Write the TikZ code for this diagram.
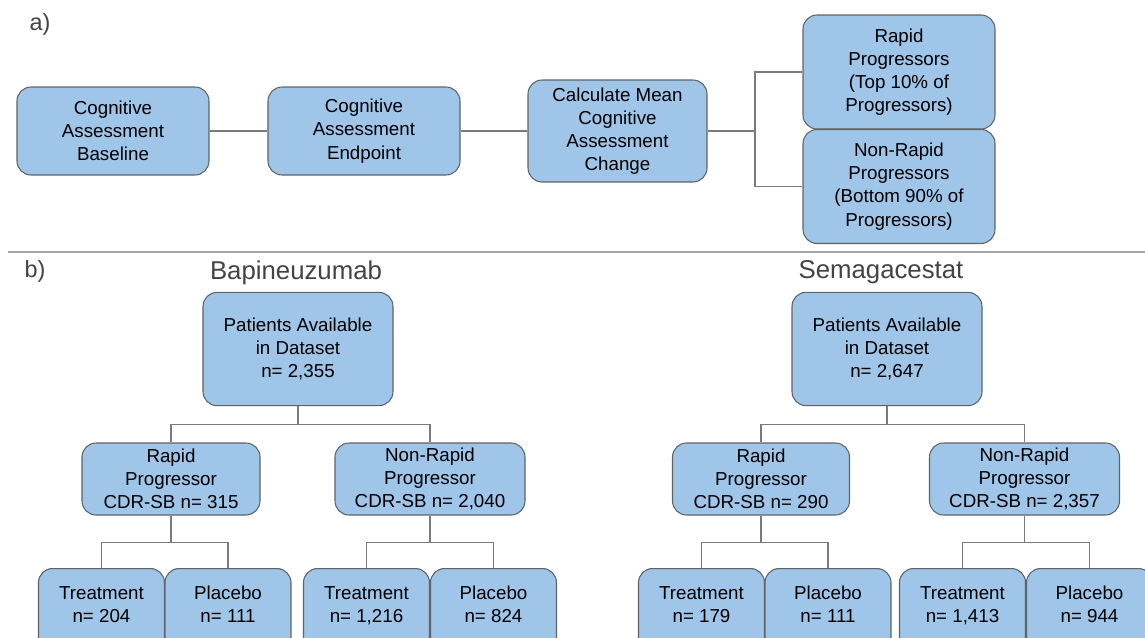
\documentclass[tikz,border=0pt]{standalone}
\usepackage{fontspec}
\setmainfont{Liberation Sans}
\usetikzlibrary{positioning}
\definecolor{boxblue}{HTML}{9FC5E8}
\definecolor{boxedge}{HTML}{5F6368}
\definecolor{labgray}{HTML}{434343}
\definecolor{linkgray}{HTML}{7A7A7A}

\begin{document}
\begin{tikzpicture}[
  x=0.03cm, y=-0.03cm,
  every node/.style={font=\fontsize{16}{19.8}\selectfont},
  blk/.style={draw=boxedge, line width=0.9pt, fill=boxblue, rounded corners=12pt,
              align=center},
  stage/.style={blk, minimum width=5.76cm, minimum height=2.64cm},
  split/.style={blk, minimum width=5.76cm, minimum height=3.42cm},
  pool/.style={blk, minimum width=5.70cm, minimum height=3.40cm},
  grp/.style={blk, minimum height=2.16cm, inner ysep=1pt},
  leaf/.style={blk, minimum width=3.78cm, anchor=north, inner ysep=15pt,
               text depth=2cm},
  tag/.style={text=labgray, font=\fontsize{20}{24}\selectfont},
  drug/.style={text=labgray, font=\fontsize{22}{26}\selectfont},
  link/.style={draw=linkgray, line width=1pt},
]
\useasboundingbox (0,0) rectangle (1145,637);

% Panel labels
\node[tag] (taga) at (40,24) {a)};
\node[tag] (tagb) at (35,271) {b)};

% a) pipeline
\node[stage] (base) at (113,131) {Cognitive\\Assessment\\Baseline};
\node[stage] (endp) at (364,131) {Cognitive\\Assessment\\Endpoint};
\node[blk, minimum width=5.37cm, minimum height=3.06cm] (calc) at (617.5,131)
  {Calculate Mean\\Cognitive\\Assessment\\Change};
\node[split] (rapid) at (899,72)
  {Rapid\\Progressors\\(Top 10\% of\\Progressors)};
\node[split] (slow) at (899,186.5)
  {Non-Rapid\\Progressors\\(Bottom 90\% of\\Progressors)};

\coordinate (fork) at (755,131);
\draw[link] (base) -- (endp);
\draw[link] (endp) -- (calc);
\draw[link] (calc) -- (fork);
\draw[link] (fork) |- (rapid.west);
\draw[link] (fork) |- (slow.west);

% Separator
\draw[draw=gray!70, line width=1pt] (8,252) -- (1145,252);

% b) Bapineuzumab
\node[drug] (bapi) at (296,273) {Bapineuzumab};
\node[pool] (pat1) at (298,349) {Patients Available\\in Dataset\\n= 2,355};
\node[grp, minimum width=5.34cm] (rp1) at (171,479) {Rapid\\Progressor\\CDR-SB n= 315};
\node[grp, minimum width=5.70cm] (nrp1) at (430,479) {Non-Rapid\\Progressor\\CDR-SB n= 2,040};
\node[leaf] (tr1) at (101.5,568) {Treatment\\n= 204};
\node[leaf] (pl1) at (228,568) {Placebo\\n= 111};
\node[leaf] (tr2) at (366.5,568) {Treatment\\n= 1,216};
\node[leaf] (pl2) at (493.5,568) {Placebo\\n= 824};

\draw[link] (pat1.south) -- ++(0,18) -| (rp1.north);
\draw[link] (pat1.south) -- ++(0,18) -| (nrp1.north);
\draw[link] (rp1.south) -- ++(0,27) -| (tr1.north);
\draw[link] (rp1.south) -- ++(0,27) -| (pl1.north);
\draw[link] (nrp1.south) -- ++(0,27) -| (tr2.north);
\draw[link] (nrp1.south) -- ++(0,27) -| (pl2.north);

% b) Semagacestat
\node[drug] (sema) at (881,272) {Semagacestat};
\node[pool] (pat2) at (887,349) {Patients Available\\in Dataset\\n= 2,647};
\node[grp, minimum width=5.31cm] (rp2) at (761,479) {Rapid\\Progressor\\CDR-SB n= 290};
\node[grp, minimum width=5.70cm] (nrp2) at (1024.5,479) {Non-Rapid\\Progressor\\CDR-SB n= 2,357};
\node[leaf] (tr3) at (701.5,568) {Treatment\\n= 179};
\node[leaf] (pl3) at (828,568) {Placebo\\n= 111};
\node[leaf] (tr4) at (962.5,568) {Treatment\\n= 1,413};
\node[leaf] (pl4) at (1089.5,568) {Placebo\\n= 944};

\draw[link] (pat2.south) -- ++(0,18) -| (rp2.north);
\draw[link] (pat2.south) -- ++(0,18) -| (nrp2.north);
\draw[link] (rp2.south) -- ++(0,27) -| (tr3.north);
\draw[link] (rp2.south) -- ++(0,27) -| (pl3.north);
\draw[link] (nrp2.south) -- ++(0,27) -| (tr4.north);
\draw[link] (nrp2.south) -- ++(0,27) -| (pl4.north);

\end{tikzpicture}
\end{document}
